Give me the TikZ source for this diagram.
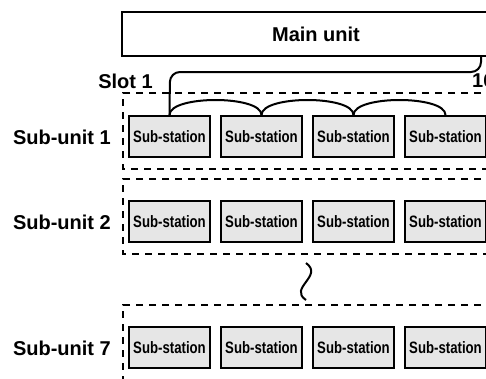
\documentclass[tikz,border=0pt]{standalone}
\usepackage{fontspec}
\setmainfont{Liberation Sans}
\newfontfamily\narrowfont[FakeStretch=0.8]{Liberation Sans}
\begin{document}
\begin{tikzpicture}[x=1pt,y=-1pt,
  lbl/.style={font=\fontsize{20}{24}\selectfont\bfseries, inner sep=0pt},
  substn/.style={draw, line width=2pt, fill=boxgray, minimum width=81pt, minimum height=41pt,
     inner sep=0pt, font=\narrowfont\fontsize{16.5}{19}\selectfont\bfseries},
  unitbox/.style={draw, dashed, line width=1.2pt, dash pattern=on 7pt off 6pt},
  wire/.style={line width=2pt, rounded corners=10pt}
]
\definecolor{boxgray}{RGB}{230,230,230}
\useasboundingbox (0,0) rectangle (486,378);
\clip (0,0) rectangle (486,378);
% main unit
\node[draw, line width=2pt, minimum width=440pt, minimum height=44pt, inner sep=0pt, anchor=north west] (main) at (121,11) {};
\node[lbl] (maintext) at (316,34) {Main unit};
% sub-unit dashed frames
\draw[unitbox] (520,93) -- (123,93) -- (123,169) -- (520,169);
\draw[unitbox] (520,179) -- (123,179) -- (123,254) -- (520,254);
\draw[unitbox] (520,305) -- (123,305) -- (123,390);
% labels
\node[lbl] (slot1) at (125.5,81) {Slot 1};
\node[lbl, anchor=west] (slot16) at (472,81) {16};
\node[lbl, anchor=east] (su1) at (111,137) {Sub-unit 1};
\node[lbl, anchor=east] (su2) at (111,222) {Sub-unit 2};
\node[lbl, anchor=east] (su7) at (111,348) {Sub-unit 7};
% sub-stations
\foreach \r/\y in {1/136.5, 2/221.5, 7/347.5}{
  \foreach \c/\x in {1/169.5, 2/261.5, 3/353.5, 4/445.5}{
    \node[substn] (s\r\c) at (\x,\y) {Sub-station};
  }
}
% bus connections
\coordinate (mainport) at (481,55);
\draw[wire] (s11.north) -- (170,72) -- (481,72) -- (mainport);
\foreach \a/\b in {1/2, 2/3, 3/4}{
  \draw[line width=2pt] (s1\a.north) .. controls ([yshift=20pt]s1\a.north) and ([yshift=20pt]s1\b.north) .. (s1\b.north);
}
% omission mark
\coordinate (wt) at (306,263);
\coordinate (wb) at (306,300);
\draw[line width=2pt] (wt) .. controls (324,276) and (288,288) .. (wb);
\end{tikzpicture}
\end{document}
